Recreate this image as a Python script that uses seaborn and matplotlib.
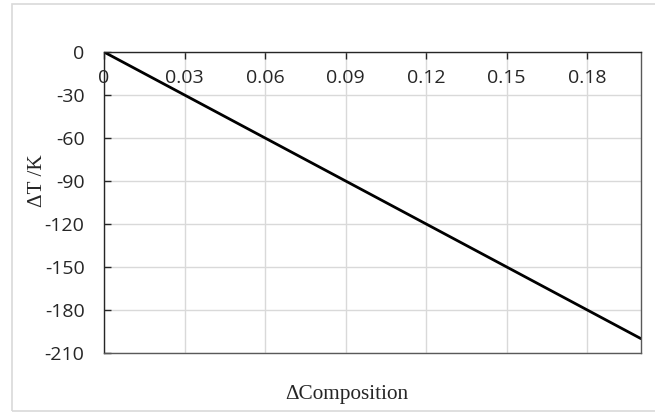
import seaborn as sns
import matplotlib.pyplot as plt
from matplotlib.patches import Rectangle

# data
composition = [0.0, 0.2]
delta_t = [0, -200]
x_ticks = [0, 0.03, 0.06, 0.09, 0.12, 0.15, 0.18]
x_labels = ["0", "0.03", "0.06", "0.09", "0.12", "0.15", "0.18"]
y_ticks = [0, -30, -60, -90, -120, -150, -180, -210]

sns.set_style("white")
plt.rcParams['font.family'] = ['Open Sans', 'DejaVu Sans']
plt.rcParams['axes.unicode_minus'] = False

fig = plt.figure(figsize=(6.55, 4.12), dpi=100)
ax = fig.add_axes([104 / 655, 1 - 353 / 412, 537 / 655, 301 / 412])

# outer chart border
fig.patches.append(Rectangle((12 / 655, 1 - 411 / 412), 650 / 655, 407 / 412,
                             transform=fig.transFigure, fill=False,
                             edgecolor='#d9d9d9', linewidth=1.2))

sns.lineplot(x=composition, y=delta_t, color='black', linewidth=2, ax=ax)

ax.set_xlim(0, 0.2)
ax.set_ylim(-210, 0)
ax.set_xticks(x_ticks)
ax.set_xticklabels(x_labels)
ax.set_yticks(y_ticks)
ax.grid(True, color='#d9d9d9', linewidth=1)
ax.set_axisbelow(True)

for s in ax.spines.values():
    s.set_color('#595959')
    s.set_linewidth(1)
ax.spines['top'].set_color('#262626')
ax.spines['left'].set_color('#262626')

ax.tick_params(axis='x', top=True, bottom=False, labeltop=True, labelbottom=False,
               direction='in', length=5, width=1, color='#262626', pad=-25,
               labelsize=14, labelcolor='#262626')
ax.tick_params(axis='y', left=True, direction='in', length=5, width=1,
               color='#262626', pad=14, labelsize=14, labelcolor='#262626')

fig.text(347 / 655, 1 - 394 / 412, "\u0394Composition", ha='center', va='center',
         family='Liberation Serif', fontsize=15.3, color='#262626')
fig.text(37.5 / 655, 1 - 181 / 412, "\u0394T /K", ha='center', va='center', rotation=90,
         family='Liberation Serif', fontsize=15.3, color='#262626')

fig.savefig("out.png", dpi=100)
